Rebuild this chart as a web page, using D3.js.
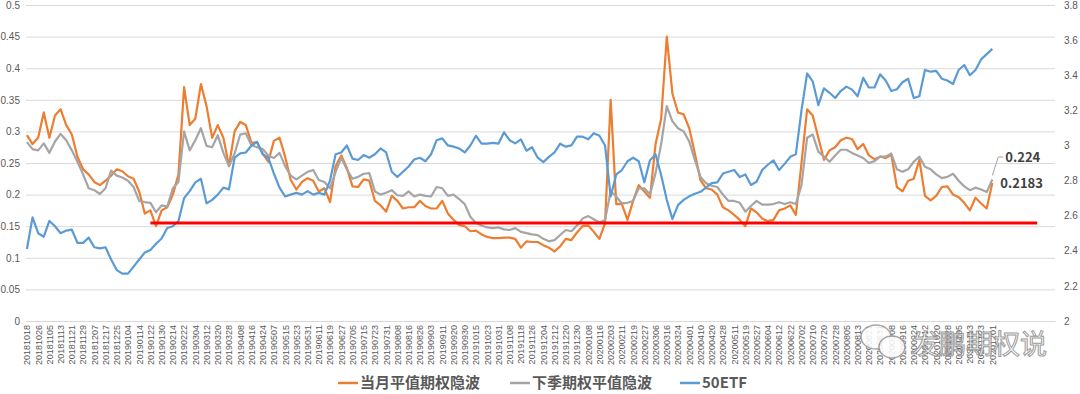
<!DOCTYPE html>
<html>
<head>
<meta charset="utf-8">
<script src="https://cdn.jsdelivr.net/npm/d3@7"></script>
<style>
  body { margin: 0; background: #fff; }
  svg { display: block; font-family: "Noto Sans CJK SC", "Noto Sans", sans-serif; }
</style>
</head>
<body>
<svg id="chart" width="1080" height="394"></svg>
<script>
// date labels shown on the axis (one every 6 trading days)
var dateTicks = ["20181018","20181026","20181105","20181113","20181121","20181129","20181207","20181217","20181225",
  "20190104","20190114","20190122","20190130","20190214","20190222","20190304","20190312","20190320","20190328",
  "20190408","20190416","20190424","20190507","20190515","20190523","20190531","20190611","20190619","20190627",
  "20190705","20190715","20190723","20190731","20190808","20190816","20190826","20190903","20190911","20190920",
  "20190930","20191015","20191023","20191031","20191108","20191118","20191126","20191204","20191212","20191220",
  "20191230","20200108","20200116","20200203","20200211","20200219","20200227","20200306","20200316","20200324",
  "20200401","20200410","20200420","20200428","20200511","20200519","20200527","20200604","20200612","20200622",
  "20200702","20200710","20200720","20200728","20200805","20200813","20200821","20200831","20200908","20200916",
  "20200924","20201012","20201020","20201028","20201105","20201113","20201123","20201201"];

// sampled every 3 trading days
var ivFront = [0.294,0.28,0.29,0.33,0.29,0.325,0.335,0.31,0.295,0.26,
  0.24,0.232,0.22,0.215,0.222,0.23,0.24,0.237,0.229,0.225,
  0.205,0.17,0.175,0.15,0.175,0.18,0.2,0.232,0.37,0.31,
  0.32,0.375,0.34,0.29,0.31,0.29,0.245,0.3,0.315,0.31,
  0.282,0.283,0.265,0.252,0.285,0.29,0.26,0.223,0.208,0.22,
  0.226,0.222,0.205,0.21,0.188,0.245,0.262,0.242,0.213,0.212,
  0.224,0.222,0.19,0.183,0.173,0.198,0.19,0.178,0.18,0.18,
  0.19,0.182,0.178,0.178,0.19,0.17,0.16,0.152,0.15,0.142,
  0.143,0.137,0.133,0.131,0.131,0.132,0.132,0.13,0.116,0.126,
  0.125,0.125,0.12,0.116,0.11,0.118,0.13,0.128,0.14,0.15,
  0.151,0.141,0.13,0.155,0.35,0.185,0.185,0.16,0.19,0.215,
  0.205,0.195,0.28,0.32,0.45,0.36,0.33,0.327,0.305,0.265,
  0.223,0.21,0.208,0.2,0.18,0.175,0.168,0.16,0.15,0.178,
  0.172,0.162,0.158,0.16,0.175,0.178,0.183,0.168,0.25,0.335,
  0.325,0.29,0.255,0.27,0.275,0.286,0.29,0.288,0.272,0.28,
  0.262,0.256,0.26,0.258,0.263,0.212,0.205,0.222,0.225,0.255,
  0.198,0.191,0.198,0.212,0.213,0.2,0.196,0.187,0.175,0.195,
  0.186,0.178,0.2183];

var ivNext = [0.283,0.272,0.27,0.281,0.266,0.284,0.296,0.286,0.27,0.252,
  0.232,0.21,0.207,0.201,0.21,0.238,0.23,0.227,0.222,0.212,
  0.19,0.188,0.187,0.172,0.183,0.181,0.21,0.22,0.3,0.27,
  0.286,0.305,0.277,0.275,0.294,0.266,0.245,0.265,0.295,0.297,
  0.278,0.275,0.272,0.262,0.258,0.266,0.245,0.23,0.224,0.23,
  0.236,0.239,0.223,0.22,0.21,0.236,0.258,0.24,0.225,0.228,
  0.233,0.234,0.205,0.2,0.203,0.207,0.199,0.198,0.205,0.197,
  0.2,0.198,0.197,0.212,0.21,0.198,0.2,0.193,0.185,0.165,
  0.155,0.151,0.148,0.147,0.148,0.145,0.144,0.147,0.141,0.139,
  0.137,0.136,0.13,0.126,0.128,0.136,0.144,0.142,0.151,0.162,
  0.166,0.161,0.156,0.16,0.205,0.197,0.186,0.187,0.19,0.21,
  0.21,0.2,0.234,0.28,0.34,0.316,0.305,0.3,0.284,0.255,
  0.228,0.218,0.214,0.212,0.2,0.19,0.19,0.187,0.173,0.182,
  0.19,0.184,0.184,0.185,0.188,0.185,0.188,0.185,0.215,0.29,
  0.295,0.268,0.26,0.252,0.262,0.271,0.271,0.266,0.262,0.258,
  0.25,0.253,0.26,0.26,0.265,0.24,0.236,0.24,0.252,0.26,
  0.244,0.24,0.232,0.226,0.228,0.233,0.222,0.213,0.207,0.211,
  0.208,0.204,0.224];

var etf50 = [2.41,2.59,2.5,2.48,2.57,2.54,2.5,2.515,2.52,2.445,
  2.445,2.475,2.42,2.414,2.42,2.35,2.29,2.27,2.27,2.31,
  2.35,2.39,2.405,2.44,2.47,2.53,2.54,2.57,2.7,2.74,
  2.79,2.81,2.67,2.69,2.72,2.76,2.75,2.93,2.955,2.96,
  3.0,3.02,2.95,2.93,2.84,2.76,2.71,2.72,2.73,2.72,
  2.74,2.72,2.73,2.72,2.8,2.95,2.96,3.0,2.925,2.917,
  2.945,2.93,2.95,2.983,2.96,2.85,2.82,2.85,2.88,2.92,
  2.93,2.91,2.95,3.03,3.04,3.0,2.993,2.983,2.96,3.0,
  3.055,3.01,3.01,3.015,3.01,3.075,3.03,3.012,3.035,2.97,
  2.99,2.93,2.905,2.935,2.96,3.01,2.993,3.0,3.05,3.05,
  3.035,3.07,3.055,3.0,2.71,2.835,2.86,2.91,2.93,2.91,
  2.79,2.915,2.95,2.83,2.69,2.58,2.66,2.69,2.71,2.725,
  2.736,2.76,2.785,2.79,2.84,2.85,2.86,2.82,2.835,2.775,
  2.793,2.86,2.89,2.915,2.86,2.895,2.935,2.95,3.2,3.41,
  3.365,3.23,3.325,3.3,3.27,3.31,3.335,3.318,3.28,3.385,
  3.33,3.33,3.405,3.37,3.31,3.32,3.36,3.38,3.27,3.28,
  3.43,3.42,3.425,3.38,3.37,3.35,3.43,3.458,3.4,3.43,
  3.49,3.52,3.55];

var seriesNames = ["当月平值期权隐波", "下季期权平值隐波", "50ETF"];
var seriesColors = ["#ED7D31", "#A5A5A5", "#5B9BD5"];

// red reference level, from 20190122 to the end of the axis
var refLevel = 0.155;
var refRange = [66, 540];

var step = 3;          // trading days per sample
var tickEvery = 6;     // trading days per axis label
var nCats = 550;       // categories on the axis

var svg = d3.select("#chart");
var plotL = 26, plotR = 1055, plotT = 5, plotB = 321;

var x = d3.scaleLinear().domain([0, nCats]).range([plotL, plotR]);
var yL = d3.scaleLinear().domain([0, 0.5]).range([plotB, plotT]);
var yR = d3.scaleLinear().domain([2, 3.8]).range([plotB, plotT]);
var fmt = function(d) { return String(+d.toFixed(2)); };

// gridlines + left axis
var gl = svg.append("g").attr("transform", "translate(" + plotL + ",0)")
  .call(d3.axisLeft(yL).tickValues(d3.range(0, 0.5001, 0.05)).tickSize(-(plotR - plotL)).tickPadding(6).tickFormat(fmt));
gl.select(".domain").remove();
gl.selectAll(".tick line").attr("stroke", "#D9D9D9");
gl.selectAll(".tick text").attr("fill", "#595959").style("font-size", "10px");

// right axis
var gr = svg.append("g").attr("transform", "translate(" + plotR + ",0)")
  .call(d3.axisRight(yR).tickValues(d3.range(2, 3.8001, 0.2)).tickSize(0).tickPadding(9).tickFormat(fmt));
gr.select(".domain").remove();
gr.selectAll(".tick text").attr("fill", "#595959").style("font-size", "10px");

// bottom axis with rotated date labels
var gx = svg.append("g").attr("transform", "translate(0," + plotB + ")")
  .call(d3.axisBottom(x).tickValues(dateTicks.map(function(d, i) { return i * tickEvery + 0.5; }))
    .tickSize(0).tickFormat(function(d, i) { return dateTicks[i]; }));
gx.select(".domain").attr("stroke", "#D9D9D9");
gx.selectAll(".tick text")
  .attr("fill", "#595959").style("font-size", "9px")
  .attr("text-anchor", "end")
  .attr("transform", "rotate(-90)")
  .attr("x", -4).attr("y", 0).attr("dy", "0.32em");

// series lines
var xs = function(d, i) { return x(i * step + 0.5); };
var lineL = d3.line().x(xs).y(function(d) { return yL(d); });
var lineR = d3.line().x(xs).y(function(d) { return yR(d); });

svg.append("path").datum(ivFront).attr("d", lineL)
  .attr("fill", "none").attr("stroke", seriesColors[0]).attr("stroke-width", 2.2).attr("stroke-linejoin", "round");
svg.append("path").datum(ivNext).attr("d", lineL)
  .attr("fill", "none").attr("stroke", seriesColors[1]).attr("stroke-width", 2.2).attr("stroke-linejoin", "round");
svg.append("path").datum(etf50).attr("d", lineR)
  .attr("fill", "none").attr("stroke", seriesColors[2]).attr("stroke-width", 2.2).attr("stroke-linejoin", "round");

// reference line
svg.append("line")
  .attr("x1", x(refRange[0] + 0.5)).attr("x2", x(refRange[1] + 0.5))
  .attr("y1", yL(refLevel)).attr("y2", yL(refLevel))
  .attr("stroke", "#FF0000").attr("stroke-width", 3);

// end labels
var lastI = ivNext.length - 1;
var ex = x(lastI * step + 0.5);
svg.append("polyline")
  .attr("points", [[ex, yL(ivNext[lastI]) - 4], [ex + 6, 157], [ex + 11, 157]].join(" "))
  .attr("fill", "none").attr("stroke", "#A5A5A5").attr("stroke-width", 1);
svg.append("text").attr("x", ex + 13).attr("y", 157).attr("dy", "0.35em")
  .attr("fill", "#404040").style("font-size", "13px").style("font-weight", "bold")
  .text(ivNext[lastI]);
svg.append("text").attr("x", ex + 8).attr("y", 183).attr("dy", "0.35em")
  .attr("fill", "#404040").style("font-size", "13px").style("font-weight", "bold")
  .text(ivFront[lastI]);

// legend
var legendX = [338, 510, 680];
var lg = svg.append("g").attr("transform", "translate(0,383)");
seriesNames.forEach(function(name, i) {
  lg.append("line").attr("x1", legendX[i]).attr("x2", legendX[i] + 20)
    .attr("stroke", seriesColors[i]).attr("stroke-width", 2.5);
  lg.append("text").attr("x", legendX[i] + 22).attr("dy", "0.35em")
    .attr("fill", "#595959").style("font-size", "15px").style("font-weight", "bold")
    .text(name);
});

// watermark
var wm = svg.append("g").attr("opacity", 0.85);
wm.append("ellipse").attr("cx", 876).attr("cy", 337).attr("rx", 15).attr("ry", 12)
  .attr("fill", "#fff").attr("stroke", "#9a9a9a").attr("stroke-width", 1.5);
wm.append("ellipse").attr("cx", 892).attr("cy", 347).attr("rx", 13).attr("ry", 11)
  .attr("fill", "#fff").attr("stroke", "#9a9a9a").attr("stroke-width", 1.5);
wm.append("text").attr("x", 912).attr("y", 345).attr("dy", "0.35em")
  .attr("fill", "#fff").attr("stroke", "#8a8a8a").attr("stroke-width", 1)
  .style("font-size", "27px").text("发鹏期权说");
</script>
</body>
</html>
